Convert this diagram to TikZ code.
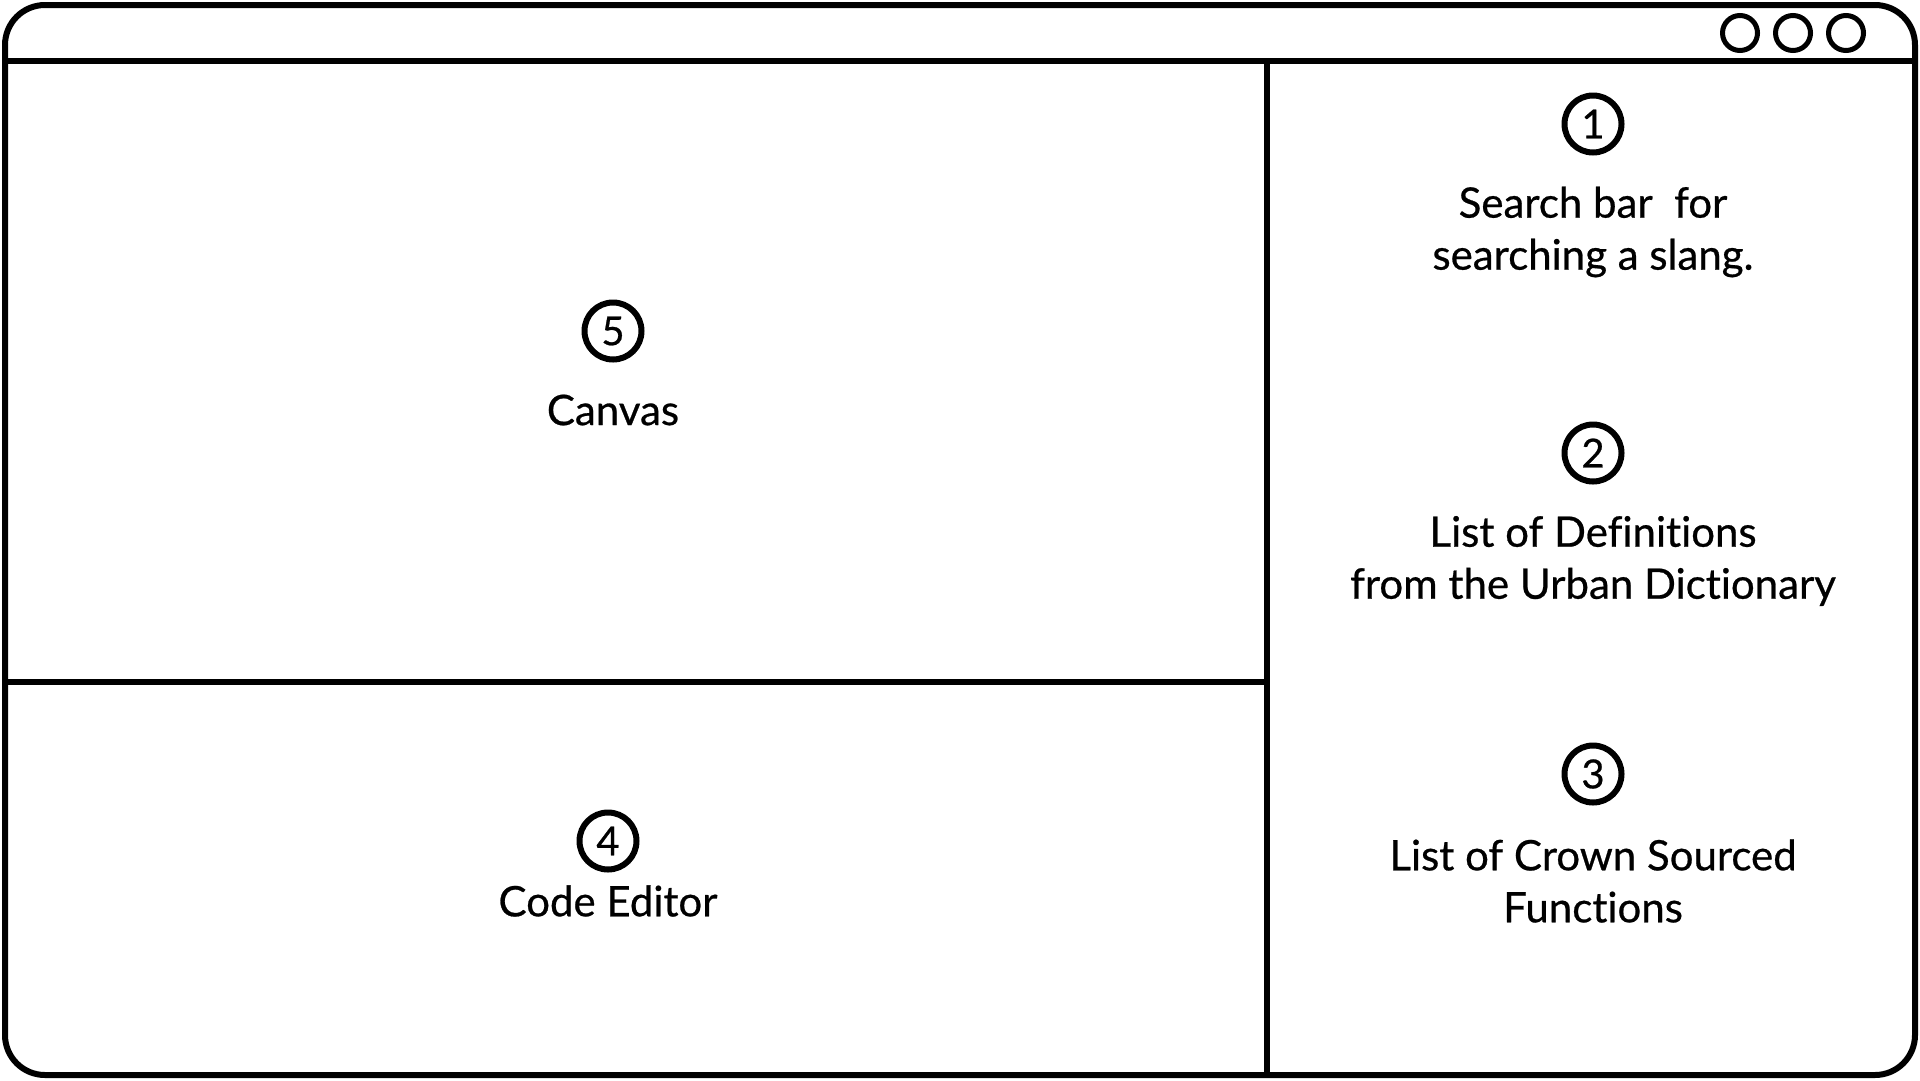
\documentclass[tikz,border=0pt]{standalone}
\usepackage{fontspec}
\setmainfont{Lato}[Ligatures=NoCommon,FakeBold=0.6]
\begin{document}
\begin{tikzpicture}[x=1pt,y=-1pt,
  frameline/.style={line width=6pt,black},
  dotcirc/.style={circle,draw,line width=5pt,minimum size=35pt,inner sep=0pt},
  numcirc/.style={circle,draw,line width=6pt,minimum size=57pt,inner sep=0pt,font=\fontsize{40}{44}\selectfont},
  lbl/.style={align=center,inner sep=0pt,font=\fontsize{42}{52}\selectfont}]
\useasboundingbox (0,0) rectangle (1920,1080);
% frame
\draw[frameline,rounded corners=40pt] (5,5) rectangle (1915,1075);
\coordinate (hl) at (5,61);
\coordinate (hr) at (1915,61);
\coordinate (vt) at (1267,61);
\coordinate (vb) at (1267,1075);
\coordinate (ml) at (5,682);
\coordinate (mr) at (1267,682);
\draw[frameline] (hl) -- (hr);
\draw[frameline] (vt) -- (vb);
\draw[frameline] (ml) -- (mr);
% window dots
\node[dotcirc] (d1) at (1740,33) {};
\node[dotcirc] (d2) at (1793,33) {};
\node[dotcirc] (d3) at (1846,33) {};
% right panel
\node[numcirc] (n1) at (1593,124) {1};
\node[lbl] (t1) at (1593,232) {Search bar\ \ for\\searching a slang.};
\node[numcirc] (n2) at (1593,453) {2};
\node[lbl] (t2) at (1593,561) {List of Definitions\\from the Urban Dictionary};
\node[numcirc] (n3) at (1593,774) {3};
\node[lbl] (t3) at (1593,881) {List of Crown Sourced\\Functions};
% canvas
\node[numcirc] (n5) at (613,331) {5};
\node[lbl] (t5) at (613,410) {Canvas};
% code editor
\node[numcirc] (n4) at (608,841) {4};
\node[lbl] (t4) at (608,901) {Code Editor};
\end{tikzpicture}
\end{document}
